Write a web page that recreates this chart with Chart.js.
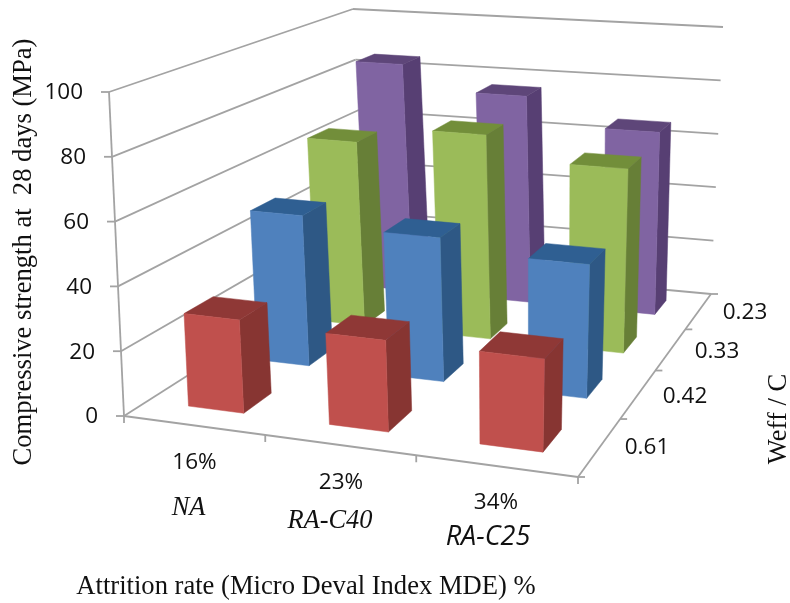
<!DOCTYPE html>
<html>
<head>
<meta charset="utf-8">
<title>Compressive strength</title>
<script src="https://cdn.jsdelivr.net/npm/chart.js@4"></script>
<style>
html, body { margin: 0; padding: 0; background: #fff; }
canvas { display: block; }
</style>
</head>
<body>
<canvas id="grafico" width="790" height="603"></canvas>
<script>
// data
const categories = ['16%', '23%', '34%'];
const materials = ['NA', 'RA-C40', 'RA-C25'];
const weffLabels = ['0.61', '0.42', '0.33', '0.23'];
const w061 = [29, 28, 28];
const w042 = [50, 47, 43];
const w033 = [65, 71, 63];
const w023 = [85, 76, 66];

const frontColors = ['#C0504D', '#4F81BD', '#9BBB59', '#8064A2'];
const topColors = ['#8F3836', '#2F5F92', '#728E3A', '#5E4679'];
const sideColors = ['#873532', '#2E5885', '#677F37', '#573F73'];

const GRID = '#a3a3a3';
const SANS = '"Open Sans", "Noto Sans", sans-serif';
const SERIF = '"Liberation Serif", serif';

// corners of the 3D box on screen: floor and level 100
const floor = [[124, 416], [578, 477], [711, 294], [366, 262]];
const ceil = [[109, 92], [590, 135], [723, 27], [353, 9]];

// unit square -> quad
function homography(q) {
    const [x0, y0] = q[0], [x1, y1] = q[1], [x2, y2] = q[2], [x3, y3] = q[3];
    const dx1 = x1 - x2, dx2 = x3 - x2, sx = x0 - x1 + x2 - x3;
    const dy1 = y1 - y2, dy2 = y3 - y2, sy = y0 - y1 + y2 - y3;
    const den = dx1 * dy2 - dx2 * dy1;
    const g = (sx * dy2 - dx2 * sy) / den;
    const h = (dx1 * sy - sx * dy1) / den;
    const a = x1 - x0 + g * x1, b = x3 - x0 + h * x3;
    const d = y1 - y0 + g * y1, e = y3 - y0 + h * y3;
    return function (u, v) {
        const w = g * u + h * v + 1;
        return [(a * u + b * v + x0) / w, (d * u + e * v + y0) / w];
    };
}
const floorAt = homography(floor);
const ceilAt = homography(ceil);

// u, v in 0..1, t is the height 0..1
function project(u, v, t) {
    const p = floorAt(u, v), q = ceilAt(u, v);
    return [p[0] + (q[0] - p[0]) * t, p[1] + (q[1] - p[1]) * t];
}

function heightOf(chart, value) {
    const y = chart.scales.y;
    return (y.bottom - y.getPixelForValue(value)) / (y.bottom - y.top);
}
function uOf(chart, i) {
    const x = chart.scales.x;
    return (x.getPixelForValue(i) - x.left) / x.width;
}
function vOf(chart, i) {
    const z = chart.scales.z;
    return (z.getPixelForValue(i) - z.left) / z.width;
}

function poly(ctx, pts, color) {
    ctx.beginPath();
    pts.forEach((p, i) => i ? ctx.lineTo(p[0], p[1]) : ctx.moveTo(p[0], p[1]));
    ctx.closePath();
    ctx.fillStyle = color;
    ctx.fill();
    ctx.strokeStyle = color;
    ctx.lineWidth = 0.5;
    ctx.stroke();
}

function line(ctx, a, b) {
    ctx.beginPath();
    ctx.moveTo(a[0], a[1]);
    ctx.lineTo(b[0], b[1]);
    ctx.stroke();
}

class Bar3dController extends Chart.BarController {
    draw() {
        const chart = this.chart, ctx = chart.ctx, d = this.index;
        const du = 0.4 / (2 * categories.length), dv = 0.4 / (2 * weffLabels.length);
        const v = vOf(chart, d);
        categories.forEach((c, j) => {
            const u = uOf(chart, j);
            const t = heightOf(chart, this.getParsed(j).y);
            const a = project(u - du, v - dv, 0), b = project(u + du, v - dv, 0), c2 = project(u + du, v + dv, 0);
            const e = project(u - du, v - dv, t), f = project(u + du, v - dv, t);
            const g = project(u + du, v + dv, t), h = project(u - du, v + dv, t);
            poly(ctx, [b, c2, g, f], sideColors[d]);
            poly(ctx, [e, f, g, h], topColors[d]);
            poly(ctx, [a, b, f, e], frontColors[d]);
        });
    }
}
Bar3dController.id = 'bar3d';
Bar3dController.defaults = Chart.BarController.defaults;
Bar3dController.overrides = Chart.BarController.overrides;
Chart.register(Bar3dController);

// walls, floor and all the text
const box3d = {
    id: 'box3d',
    beforeDatasetsDraw(chart) {
        const ctx = chart.ctx;
        ctx.save();
        ctx.strokeStyle = GRID;
        ctx.lineWidth = 1.8;
        chart.scales.y.ticks.forEach(tick => {
            const t = heightOf(chart, tick.value);
            line(ctx, project(0, 0, t), project(0, 1, t));
            line(ctx, project(0, 1, t), project(1, 1, t));
            const a = project(0, 0, t);
            line(ctx, [a[0] - 8, a[1]], a);
        });
        line(ctx, project(0, 0, 0), project(0, 0, 1));
        line(ctx, project(0, 0, 0), project(1, 0, 0));
        line(ctx, project(1, 0, 0), project(1, 1, 0));
        categories.forEach((c, j) => {
            const p = project((j + 1) / categories.length, 0, 0);
            line(ctx, p, [p[0], p[1] + 7]);
        });
        const s = project(0, 0, 0);
        line(ctx, s, [s[0], s[1] + 7]);
        const e = project(1, 0, 0);
        line(ctx, e, [e[0] + 7, e[1]]);
        weffLabels.forEach((w, i) => {
            const p = project(1, (i + 1) / weffLabels.length, 0);
            line(ctx, p, [p[0] + 7, p[1]]);
        });
        ctx.restore();
    },
    afterDraw(chart) {
        const ctx = chart.ctx;
        ctx.save();
        ctx.fillStyle = '#111';
        ctx.textBaseline = 'middle';

        ctx.font = '22.5px ' + SANS;
        ctx.textAlign = 'right';
        chart.scales.y.ticks.forEach(tick => {
            const a = project(0, 0, heightOf(chart, tick.value));
            ctx.fillText(tick.label, a[0] - 26, a[1] + 1);
        });

        ctx.textAlign = 'center';
        const catX = [194.5, 341, 496], catY = [463, 483, 503];
        categories.forEach((c, j) => ctx.fillText(c, catX[j], catY[j]));
        const wX = [647, 685, 717, 745], wY = [448, 397, 352, 313];
        weffLabels.forEach((w, i) => ctx.fillText(w, wX[i], wY[i]));

        ctx.font = 'italic 26.4px ' + SERIF;
        ctx.fillText(materials[0], 188.5, 508);
        ctx.fillText(materials[1], 330, 521);
        ctx.font = 'italic 27px ' + SANS;
        ctx.fillText(materials[2], 488, 537);

        ctx.font = '26.6px ' + SERIF;
        ctx.fillText('Attrition rate (Micro Deval Index MDE) %', 306, 587);

        ctx.save();
        ctx.translate(24, 252);
        ctx.rotate(-Math.PI / 2);
        ctx.fillText('Compressive strength at  28 days (MPa)', 0, 0);
        ctx.restore();

        ctx.save();
        ctx.translate(779, 419);
        ctx.rotate(-Math.PI / 2);
        ctx.fillText('Weff / C', 0, 0);
        ctx.restore();

        ctx.restore();
    }
};

new Chart(document.getElementById('grafico'), {
    type: 'bar3d',
    data: {
        labels: categories,
        datasets: [
            { label: weffLabels[0], data: w061, backgroundColor: frontColors[0], clip: false },
            { label: weffLabels[1], data: w042, backgroundColor: frontColors[1], clip: false },
            { label: weffLabels[2], data: w033, backgroundColor: frontColors[2], clip: false },
            { label: weffLabels[3], data: w023, backgroundColor: frontColors[3], clip: false }
        ]
    },
    options: {
        responsive: false,
        animation: false,
        layout: { padding: { top: 92, bottom: 187, left: 109, right: 67 } },
        plugins: { legend: { display: false }, tooltip: { enabled: false } },
        scales: {
            x: { display: false },
            z: { type: 'category', axis: 'x', position: 'bottom', labels: weffLabels, offset: true, display: false },
            y: { display: false, min: 0, max: 100, ticks: { stepSize: 20 } }
        }
    },
    plugins: [box3d]
});
</script>
</body>
</html>
